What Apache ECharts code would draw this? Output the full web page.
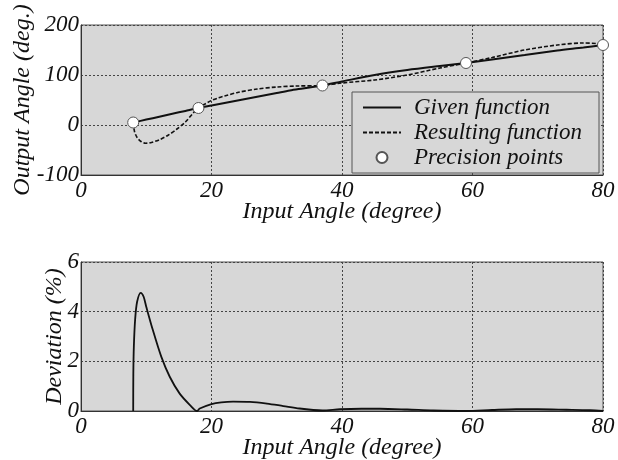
<!DOCTYPE html>
<html>
<head>
<meta charset="utf-8">
<script src="https://cdn.jsdelivr.net/npm/echarts@6/dist/echarts.min.js"></script>
<style>html,body{margin:0;padding:0;background:#fff;}#c{width:618px;height:460px;}</style>
</head>
<body>
<div id="c"></div>
<script>
// Given function (input angle -> output angle)
const givenX = [8, 10, 12, 14, 16, 18, 20, 22, 24, 26, 28, 30, 32, 34, 36, 37, 40, 45, 50, 55, 59, 63, 68, 73, 77, 80];
const givenY = [5, 10.8, 16.6, 22.4, 28.2, 34, 39, 44, 49, 54, 59, 64, 69, 73, 77, 79, 87, 100, 110, 118, 124, 131, 140, 149, 155, 160];
// Resulting function
const resX = [8, 8.2, 8.6, 9.2, 9.9, 10.8, 12.1, 13.4, 14.6, 16, 17.2, 18, 19, 20, 21, 22, 24, 27, 30, 33, 37, 40, 45, 50, 55, 59, 63, 68, 73, 77, 79, 80];
const resY = [5, -13, -25, -33, -36.5, -35, -29, -20, -9, 6, 24, 34, 42, 49, 54, 58, 65, 72, 76, 78, 79, 84, 90, 100, 114, 124, 135, 150, 160, 164, 163, 160];
// Precision points
const precX = [8, 18, 37, 59, 80];
const precY = [5, 34, 79, 124, 160];
// Deviation (%)
const devX = [8, 8.02, 8.1, 8.3, 8.6, 9.15, 9.6, 10, 11, 12.3, 13.6, 15.1, 16.7, 17.8, 18.2, 20, 21.5, 23.3, 25.9, 28.5, 31, 33.5, 35.6, 37, 39.7, 43, 45.8, 50, 54, 59, 63, 66.7, 70, 74.4, 78, 80];
const devY = [0, 1.5, 2.6, 3.7, 4.4, 4.76, 4.6, 4.2, 3.27, 2.19, 1.38, 0.71, 0.24, 0, 0.1, 0.28, 0.35, 0.38, 0.37, 0.3, 0.2, 0.1, 0.04, 0.02, 0.07, 0.09, 0.09, 0.06, 0.02, 0, 0.04, 0.07, 0.07, 0.05, 0.03, 0];
// Axis ticks
const xTicks = [0, 20, 40, 60, 80];
const y1Ticks = [-100, 0, 100, 200];
const y2Ticks = [0, 2, 4, 6];

const pairs = (xs, ys) => xs.map((x, i) => [x, ys[i]]);
const FONT = 'Liberation Serif';
const labelStyle = {fontFamily: FONT, fontStyle: 'italic', fontSize: 23, color: '#111'};
const nameStyle = {fontFamily: FONT, fontStyle: 'italic', fontSize: 24, color: '#111'};
const split = {show: true, lineStyle: {color: '#444', type: [2, 2], width: 1}};

function xAx(gi) {
  return {
    type: 'value', gridIndex: gi, min: xTicks[0], max: xTicks[xTicks.length - 1], interval: 20,
    name: 'Input Angle (degree)', nameLocation: 'middle', nameGap: 25, nameMoveOverlap: false, nameTextStyle: nameStyle,
    axisLine: {show: true, onZero: false, lineStyle: {color: '#333', width: 1}}, axisTick: {show: false},
    axisLabel: Object.assign({margin: 4}, labelStyle), splitLine: split
  };
}

const chart = echarts.init(document.getElementById('c'), null, {renderer: 'canvas'});
chart.setOption({
  animation: false,
  backgroundColor: '#fff',
  grid: [
    {left: 81, right: 15, top: 25, height: 150, show: true, backgroundColor: '#d7d7d7', borderColor: '#555', borderWidth: 1, containLabel: false, outerBoundsMode: 'none'},
    {left: 81, right: 15, top: 262, height: 149, show: true, backgroundColor: '#d7d7d7', borderColor: '#555', borderWidth: 1, containLabel: false, outerBoundsMode: 'none'}
  ],
  xAxis: [xAx(0), xAx(1)],
  yAxis: [
    {type: 'value', gridIndex: 0, min: y1Ticks[0], max: y1Ticks[y1Ticks.length - 1], interval: 100,
     name: 'Output Angle (deg.)', nameLocation: 'middle', nameGap: 46, nameMoveOverlap: false, nameTextStyle: nameStyle,
     axisLine: {show: true, onZero: false, lineStyle: {color: '#333'}}, axisTick: {show: false},
     axisLabel: Object.assign({margin: 2}, labelStyle), splitLine: split},
    {type: 'value', gridIndex: 1, min: y2Ticks[0], max: y2Ticks[y2Ticks.length - 1], interval: 2,
     name: 'Deviation (%)', nameLocation: 'middle', nameGap: 14, nameMoveOverlap: false, nameTextStyle: nameStyle,
     axisLine: {show: true, onZero: false, lineStyle: {color: '#333'}}, axisTick: {show: false},
     axisLabel: Object.assign({margin: 2}, labelStyle), splitLine: split}
  ],
  graphic: [{
    type: 'rect', z: 3, shape: {x: 352, y: 92, width: 247, height: 81},
    style: {fill: '#d7d7d7', stroke: '#555', lineWidth: 1}
  }],
  legend: {
    orient: 'vertical', left: 362, top: 96, itemGap: 2, itemWidth: 38, itemHeight: 11, z: 5,
    padding: 0,
    textStyle: {fontFamily: FONT, fontStyle: 'italic', fontSize: 23, color: '#111', padding: [0, 0, 0, 8]},
    data: [
      {name: 'Given function', itemStyle: {opacity: 0}},
      {name: 'Resulting function', itemStyle: {opacity: 0}},
      'Precision points'
    ]
  },
  series: [
    {name: 'Given function', type: 'line', xAxisIndex: 0, yAxisIndex: 0, data: pairs(givenX, givenY),
     symbol: 'none', smooth: 0.3, lineStyle: {color: '#111', width: 2}, itemStyle: {color: '#111'}, z: 3},
    {name: 'Resulting function', type: 'line', xAxisIndex: 0, yAxisIndex: 0, data: pairs(resX, resY),
     symbol: 'none', smooth: 0.3, lineStyle: {color: '#111', width: 1.6, type: [4, 2]}, itemStyle: {color: '#111'}, z: 3},
    {name: 'Precision points', type: 'scatter', xAxisIndex: 0, yAxisIndex: 0, data: pairs(precX, precY),
     symbol: 'circle', symbolSize: 11, itemStyle: {color: '#fff', borderColor: '#555', borderWidth: 1, opacity: 1}, z: 4},
    {name: 'Deviation', type: 'line', xAxisIndex: 1, yAxisIndex: 1, data: pairs(devX, devY),
     symbol: 'none', smooth: 0.3, lineStyle: {color: '#111', width: 1.8}, z: 3}
  ]
});
</script>
</body>
</html>
